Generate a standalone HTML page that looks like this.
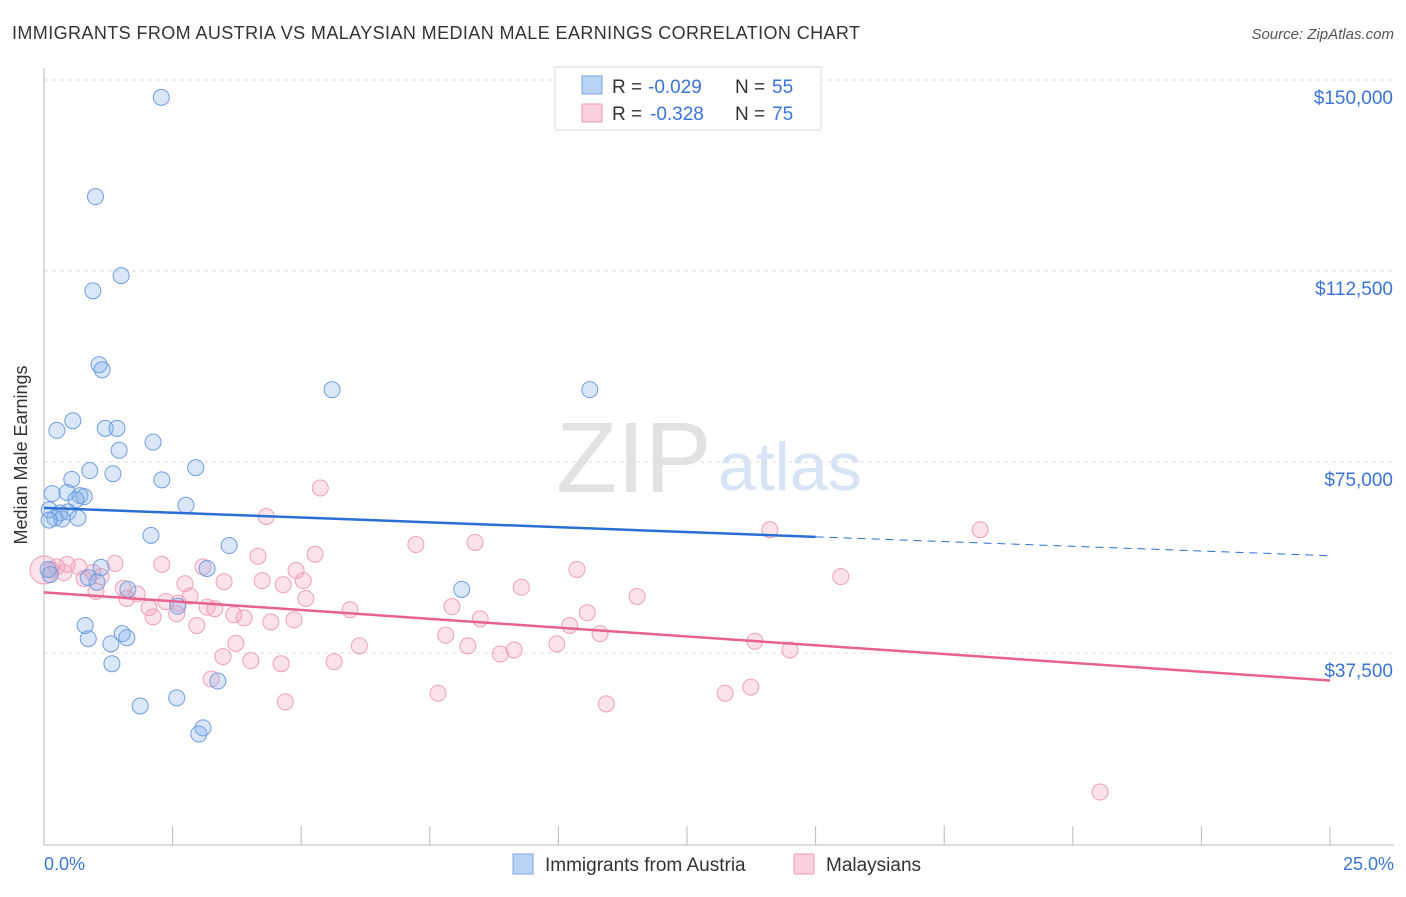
<!DOCTYPE html>
<html><head><meta charset="utf-8"><style>
body{margin:0;background:#fff;font-family:"Liberation Sans",sans-serif;}
svg text{font-family:"Liberation Sans",sans-serif;}
</style></head><body>
<svg width="1406" height="892">
<text x="12" y="39" font-size="18" fill="#333" textLength="848">IMMIGRANTS FROM AUSTRIA VS MALAYSIAN MEDIAN MALE EARNINGS CORRELATION CHART</text>
<text x="1394" y="39" font-size="15" fill="#555" font-style="italic" text-anchor="end">Source: ZipAtlas.com</text>
<text x="556" y="492" font-size="100" fill="#e2e2e2" font-family="Liberation Serif">ZIP</text>
<text x="718" y="490" font-size="68" fill="#d6e4f5">atlas</text>
<g id="grid"></g>
<line x1="44" y1="68" x2="44" y2="845" stroke="#bbb"/>
<line x1="44" y1="845" x2="1394" y2="845" stroke="#bbb"/>
<g id="xt"></g>
<text x="27" y="455" font-size="18" fill="#333" text-anchor="middle" transform="rotate(-90 27 455)">Median Male Earnings</text>
<text x="44" y="870" font-size="18" fill="#3b74d8">0.0%</text>
<text x="1394" y="870" font-size="18" fill="#3b74d8" text-anchor="end">25.0%</text>
<g id="pts"></g>
<g id="lines"></g>
<g>
<rect x="555" y="67" width="266" height="63" fill="#fff" stroke="#ddd"/>
<rect x="582" y="76" width="20" height="18" fill="#b9d3f5" stroke="#7aa6e6"/>
<rect x="582" y="104" width="20" height="18" fill="#fbd0dc" stroke="#f29ab5"/>
<text x="612" y="93" font-size="19" fill="#333">R = </text><text x="648" y="93" font-size="19" fill="#3b74d8">-0.029</text>
<text x="735" y="93" font-size="19" fill="#333">N = </text><text x="772" y="93" font-size="19" fill="#3b74d8">55</text>
<text x="612" y="120" font-size="19" fill="#333">R = </text><text x="650" y="120" font-size="19" fill="#3b74d8">-0.328</text>
<text x="735" y="120" font-size="19" fill="#333">N = </text><text x="772" y="120" font-size="19" fill="#3b74d8">75</text>
</g>
<g>
<rect x="513" y="854" width="20" height="20" fill="#b9d3f5" stroke="#7aa6e6"/>
<text x="545" y="871" font-size="19" fill="#333">Immigrants from Austria</text>
<rect x="794" y="854" width="20" height="20" fill="#fbd0dc" stroke="#f29ab5"/>
<text x="826" y="871" font-size="19" fill="#333">Malaysians</text>
</g>
</svg>
<script>
const yTicks=[37500,75000,112500,150000];
const yTickLabels=["$37,500","$75,000","$112,500","$150,000"];
const xTicks=[0,2.5,5,7.5,10,12.5,15,17.5,20,22.5,25];
const austriaX=[2.28,1.0,1.5,0.95,1.07,1.13,5.6,10.61,0.56,0.25,1.19,1.42,1.46,2.12,0.89,1.34,0.54,2.95,2.29,0.16,0.45,0.7,0.78,0.62,0.1,2.76,0.31,0.47,0.21,0.35,0.66,0.1,2.08,3.6,3.17,1.11,0.86,1.03,1.63,8.12,2.6,0.8,0.86,1.52,1.61,1.3,1.32,2.58,3.38,1.87,3.09,3.01,0.08,0.12];
const austriaY=[146600,127100,111600,108600,94100,93100,89200,89200,83100,81200,81600,81600,77300,78900,73300,72700,71600,73900,71500,68800,69000,68400,68200,67600,65600,66500,65000,65200,64000,63800,64000,63600,60600,58600,54100,54300,52300,51400,50000,50000,46700,42900,40300,41300,40500,39300,35400,28700,32000,27100,22800,21600,53900,52900];
const malX=[0.0,0.14,0.25,0.45,0.68,0.95,1.11,1.38,0.39,0.78,1.01,1.54,1.61,1.81,2.04,2.12,2.29,2.37,2.58,2.74,2.84,2.61,3.09,3.17,2.97,3.32,3.5,3.48,3.25,3.73,3.69,3.89,4.02,4.16,4.24,4.41,4.32,4.65,4.61,4.69,4.9,5.04,5.09,4.86,5.27,5.37,5.64,5.95,6.13,7.23,7.81,7.66,7.93,8.24,8.38,8.48,8.87,9.14,9.28,9.97,10.22,10.36,10.56,10.81,10.93,11.53,13.24,13.74,13.82,14.11,14.5,15.49,18.2,20.53];
const malY=[53800,53800,54400,54900,54400,53300,52500,55100,53300,52100,49600,50200,48200,49100,46400,44600,54900,47600,45200,51100,48700,47300,54400,46500,42900,46200,51500,36800,32400,39400,45000,44400,36000,56500,51700,43600,64300,50900,35400,27900,53700,51700,48200,44000,56900,69900,35800,46000,38900,58800,41000,29600,46600,38900,59200,44200,37300,38100,50400,39300,42900,53900,45400,41300,27500,48600,29600,30800,39800,61700,38100,52500,61700,10200];
const X0=44,XW=1286,Y0=844,YS=191/37500;
const xs=p=>X0+p/25*XW, ys=v=>Y0-v*YS;
const NS="http://www.w3.org/2000/svg";
const grid=document.getElementById('grid');
yTicks.forEach((v,i)=>{
 const l=document.createElementNS(NS,'line');
 l.setAttribute('x1',44);l.setAttribute('x2',1394);l.setAttribute('y1',ys(v));l.setAttribute('y2',ys(v));
 l.setAttribute('stroke','#ddd');l.setAttribute('stroke-dasharray','4,4');
 
 
 grid.appendChild(l);
 const t=document.createElementNS(NS,'text');
 t.setAttribute('x',1393);t.setAttribute('y',ys(v)+24);t.setAttribute('text-anchor','end');
 t.setAttribute('font-size','19');t.setAttribute('fill','#3b74d8');t.textContent=yTickLabels[i];
 
 
 grid.appendChild(t);
});
const xt=document.getElementById('xt');
xTicks.forEach(p=>{
 const l=document.createElementNS(NS,'line');
 l.setAttribute('x1',xs(p));l.setAttribute('x2',xs(p));l.setAttribute('y1',826);l.setAttribute('y2',845);
 l.setAttribute('stroke','#bbb');
 
 
 xt.appendChild(l);
});
const pts=document.getElementById('pts');
function dot(x,y,fill,stroke,name,r){
 const c=document.createElementNS(NS,'circle');
 c.setAttribute('cx',xs(x));c.setAttribute('cy',ys(y));c.setAttribute('r',r||8);
 c.setAttribute('fill',fill);c.setAttribute('stroke',stroke);c.setAttribute('stroke-width','1');
 
 
 pts.appendChild(c);
}
malX.forEach((x,i)=>dot(x,malY[i],'rgba(244,160,186,0.3)','#efa0b9',i==0?'malaysians-point-large':'malaysians-point',i==0?14:8));
austriaX.forEach((x,i)=>dot(x,austriaY[i],'rgba(130,176,236,0.3)','#6f9ee0','austria-point'));
const lines=document.getElementById('lines');
function ln(x1,y1,x2,y2,c,dash,name){
 const l=document.createElementNS(NS,'line');
 l.setAttribute('x1',xs(x1));l.setAttribute('y1',ys(y1));l.setAttribute('x2',xs(x2));l.setAttribute('y2',ys(y2));
 l.setAttribute('stroke',c);l.setAttribute('stroke-width',dash?1:2.5);
 if(dash)l.setAttribute('stroke-dasharray','8,6');
 
 
 lines.appendChild(l);
}
ln(0,66000,15,60300,'#2a6fd6',false,'austria-trend-line');
ln(15,60300,25,56600,'#2a6fd6',true,'austria-trend-extension');
ln(0,49400,25,32100,'#e8628e',false,'malaysians-trend-line');
</script>
</body></html>
